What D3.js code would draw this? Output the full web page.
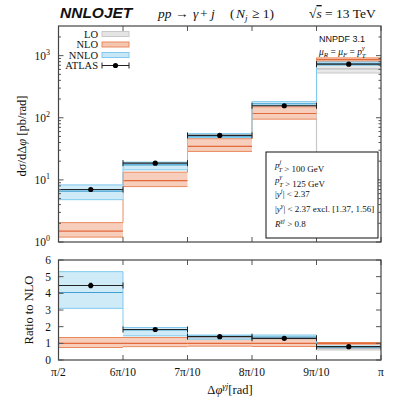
<!DOCTYPE html>
<html>
<head>
<meta charset="utf-8">
<script src="https://cdnjs.cloudflare.com/ajax/libs/d3/7.8.5/d3.min.js"></script>
<style>
  body { margin: 0; background: #fff; }
  text { font-family: "Liberation Serif", "DejaVu Serif", serif; fill: #111; }
</style>
</head>
<body>
<div id="chart-div"></div>
<script>
var fn = {};
var vars = {};

// bin edges in units of pi
var bin_edges = [0.5, 0.6, 0.7, 0.8, 0.9, 1.0];
var x_tick_labels = ["π/2", "6π/10", "7π/10", "8π/10", "9π/10", "π"];

// upper panel, dσ/dΔφ [pb/rad]  (lo, central, hi)
var lo_lo = [null, null, null, null, 525];
var lo_mid = [null, null, null, null, 610];
var lo_hi = [null, null, null, null, 700];

var nlo_lo = [1.2, 7.8, 28.7, 95, 810];
var nlo_mid = [1.5, 9.7, 34.7, 117, 860];
var nlo_hi = [2.05, 13.3, 46, 150, 920];

var nnlo_lo = [4.8, 14.5, 48, 158, 700];
var nnlo_mid = [6.6, 17.5, 50.5, 168, 740];
var nnlo_hi = [8.3, 19.3, 55.6, 182, 790];

var atlas_val = [7.0, 18.6, 52, 156, 730];
var atlas_err = [0.3, 0.6, 1.5, 4, 20];

// lower panel, ratio to NLO
var r_lo_lo = [null, null, null, null, 0.6];
var r_lo_mid = [null, null, null, null, 0.7];
var r_lo_hi = [null, null, null, null, 0.78];

var r_nlo_lo = [0.75, 0.8, 0.83, 0.81, 0.95];
var r_nlo_mid = [1, 1, 1, 1, 1];
var r_nlo_hi = [1.35, 1.35, 1.33, 1.28, 1.05];

var r_nnlo_lo = [3.1, 1.45, 1.25, 1.28, 0.74];
var r_nnlo_mid = [4.05, 1.8, 1.42, 1.38, 0.8];
var r_nnlo_hi = [5.3, 1.95, 1.5, 1.5, 0.84];

var r_atlas_val = [4.47, 1.83, 1.4, 1.3, 0.8];
var r_atlas_err = [0.16, 0.05, 0.04, 0.04, 0.03];

var y_ticks_log = [1, 10, 100, 1000];
var y_ticks_ratio = [0, 1, 2, 3, 4, 5, 6];

vars.colors = {
  lo: { fill: "#e4e4e4", edge: "#c8c8c8", mid: "#bdbdbd" },
  nlo: { fill: "#f5c6af", edge: "#e98a5e", mid: "#e2693a" },
  nnlo: { fill: "#c7e7f7", edge: "#7fcaee", mid: "#3f9fd0" }
};

vars.chart = {
  left: 58.5, right: 381,
  top: { y0: 26, y1: 242 },
  bottom: { y0: 260, y1: 360 }
};

fn.bins = function(lo, mid, hi) {
  return d3.range(bin_edges.length - 1).map(function(i) {
    return { x0: bin_edges[i], x1: bin_edges[i + 1], lo: lo[i], mid: mid[i], hi: hi[i] };
  }).filter(function(d) { return d.mid != null; });
};

fn.draw_band = function(g, data, x, y, col) {
  var grp = g.append("g");
  grp.selectAll("rect").data(data).enter().append("rect")
    .attr("x", function(d) { return x(d.x0); })
    .attr("width", function(d) { return x(d.x1) - x(d.x0); })
    .attr("y", function(d) { return y(d.hi); })
    .attr("height", function(d) { return y(d.lo) - y(d.hi); })
    .attr("fill", col.fill).attr("fill-opacity", 0.85);
  ["lo", "hi"].forEach(function(k) {
    grp.selectAll("line." + k).data(data).enter().append("line")
      .attr("class", k)
      .attr("x1", function(d) { return x(d.x0); })
      .attr("x2", function(d) { return x(d.x1); })
      .attr("y1", function(d) { return y(d[k]); })
      .attr("y2", function(d) { return y(d[k]); })
      .attr("stroke", col.edge).attr("stroke-width", 1);
  });
  grp.selectAll("line.mid").data(data).enter().append("line")
    .attr("class", "mid")
    .attr("x1", function(d) { return x(d.x0); })
    .attr("x2", function(d) { return x(d.x1); })
    .attr("y1", function(d) { return y(d.mid); })
    .attr("y2", function(d) { return y(d.mid); })
    .attr("stroke", col.mid).attr("stroke-width", 1.2);
  // vertical steps between neighbouring bins
  for (var i = 0; i < data.length - 1; i++) {
    var a = data[i], b = data[i + 1];
    grp.append("line")
      .attr("x1", x(a.x1)).attr("x2", x(a.x1))
      .attr("y1", y(Math.max(a.hi, b.hi))).attr("y2", y(Math.min(a.hi, b.hi)))
      .attr("stroke", col.edge).attr("stroke-width", 1);
  }
};

fn.draw_atlas = function(g, vals, errs, x, y) {
  var grp = g.append("g");
  vals.forEach(function(v, i) {
    var x0 = x(bin_edges[i]), x1 = x(bin_edges[i + 1]), yc = y(v);
    grp.append("line").attr("x1", x0).attr("x2", x1).attr("y1", yc).attr("y2", yc)
      .attr("stroke", "#222").attr("stroke-width", 1.1);
    [x0, x1].forEach(function(xx) {
      grp.append("line").attr("x1", xx).attr("x2", xx).attr("y1", yc - 3).attr("y2", yc + 3)
        .attr("stroke", "#222").attr("stroke-width", 1);
    });
    var xm = (x0 + x1) / 2;
    grp.append("line").attr("x1", xm).attr("x2", xm)
      .attr("y1", y(v + errs[i])).attr("y2", y(v - errs[i]))
      .attr("stroke", "#000").attr("stroke-width", 2.4);
    grp.append("circle").attr("cx", xm).attr("cy", yc).attr("r", 2.6).attr("fill", "#000");
  });
};

fn.draw_frame = function(g, x, y, y_ticks, minor) {
  var x0 = vars.chart.left, x1 = vars.chart.right;
  var ya = y.range()[0], yb = y.range()[1];
  var tk = g.append("g").attr("stroke", "#555").attr("stroke-width", 1);
  y_ticks.forEach(function(t) {
    tk.append("line").attr("x1", x0).attr("x2", x0 + 5).attr("y1", y(t)).attr("y2", y(t));
    tk.append("line").attr("x1", x1).attr("x2", x1 - 5).attr("y1", y(t)).attr("y2", y(t));
  });
  minor.forEach(function(t) {
    tk.append("line").attr("x1", x0).attr("x2", x0 + 2.5).attr("y1", y(t)).attr("y2", y(t));
    tk.append("line").attr("x1", x1).attr("x2", x1 - 2.5).attr("y1", y(t)).attr("y2", y(t));
  });
  bin_edges.forEach(function(e) {
    tk.append("line").attr("x1", x(e)).attr("x2", x(e)).attr("y1", ya).attr("y2", ya - 5);
    tk.append("line").attr("x1", x(e)).attr("x2", x(e)).attr("y1", yb).attr("y2", yb + 5);
  });
  g.append("rect").attr("x", x0).attr("y", yb).attr("width", x1 - x0).attr("height", ya - yb)
    .attr("fill", "none").attr("stroke", "#444").attr("stroke-width", 1.2);
};

// p with stacked super / subscript, e.g. p_T^j
fn.stacked = function(t, base, sup, sub, fs) {
  t.append("tspan").attr("font-style", "italic").text(base);
  t.append("tspan").attr("font-style", "italic").attr("font-size", fs).attr("dy", -4.5).text(sup);
  t.append("tspan").attr("font-style", "italic").attr("font-size", fs)
    .attr("dx", -fs * 0.45).attr("dy", 8).text(sub);
  t.append("tspan").attr("dy", -3.5).text("");
};

fn.main = function() {
  var svg = d3.select("#chart-div").append("svg")
    .attr("width", 397).attr("height", 405);

  var x = d3.scaleLinear().domain([0.5, 1.0]).range([vars.chart.left, vars.chart.right]);
  var y_top = d3.scaleLog().domain([1, 3000]).range([vars.chart.top.y1, vars.chart.top.y0]);
  var y_bot = d3.scaleLinear().domain([0, 6]).range([vars.chart.bottom.y1, vars.chart.bottom.y0]);

  // ---- upper panel
  var top = svg.append("g");
  top.append("defs").append("clipPath").attr("id", "clip-top").append("rect")
    .attr("x", vars.chart.left).attr("y", vars.chart.top.y0)
    .attr("width", vars.chart.right - vars.chart.left).attr("height", vars.chart.top.y1 - vars.chart.top.y0);
  var pt = top.append("g").attr("clip-path", "url(#clip-top)");

  // LO only lives in the last bin: edge drops to the floor
  pt.append("line").attr("x1", x(0.9)).attr("x2", x(0.9))
    .attr("y1", y_top(lo_hi[4])).attr("y2", vars.chart.top.y1)
    .attr("stroke", vars.colors.lo.edge).attr("stroke-width", 1.2);
  fn.draw_band(pt, fn.bins(lo_lo, lo_mid, lo_hi), x, y_top, vars.colors.lo);
  fn.draw_band(pt, fn.bins(nlo_lo, nlo_mid, nlo_hi), x, y_top, vars.colors.nlo);
  fn.draw_band(pt, fn.bins(nnlo_lo, nnlo_mid, nnlo_hi), x, y_top, vars.colors.nnlo);
  fn.draw_atlas(pt, atlas_val, atlas_err, x, y_top);

  var minor_log = [];
  [1, 10, 100, 1000].forEach(function(d) {
    for (var k = 2; k <= 9; k++) if (d * k < 3000) minor_log.push(d * k);
  });
  fn.draw_frame(top, x, y_top, y_ticks_log, minor_log);

  y_ticks_log.forEach(function(t) {
    var tx = top.append("text").attr("x", 50).attr("y", y_top(t) + 4)
      .attr("text-anchor", "end").attr("font-size", 11.5);
    tx.append("tspan").text("10");
    tx.append("tspan").attr("dy", -5).attr("font-size", 8).text(Math.round(Math.log10(t)));
  });

  // ---- lower panel
  var bot = svg.append("g");
  bot.append("defs").append("clipPath").attr("id", "clip-bot").append("rect")
    .attr("x", vars.chart.left).attr("y", vars.chart.bottom.y0)
    .attr("width", vars.chart.right - vars.chart.left).attr("height", vars.chart.bottom.y1 - vars.chart.bottom.y0);
  var pb = bot.append("g").attr("clip-path", "url(#clip-bot)");
  pb.append("line").attr("x1", x(0.9)).attr("x2", x(0.9))
    .attr("y1", y_bot(r_lo_hi[4])).attr("y2", y_bot(r_lo_lo[4]))
    .attr("stroke", vars.colors.lo.edge).attr("stroke-width", 1.2);
  fn.draw_band(pb, fn.bins(r_lo_lo, r_lo_mid, r_lo_hi), x, y_bot, vars.colors.lo);
  fn.draw_band(pb, fn.bins(r_nlo_lo, r_nlo_mid, r_nlo_hi), x, y_bot, vars.colors.nlo);
  fn.draw_band(pb, fn.bins(r_nnlo_lo, r_nnlo_mid, r_nnlo_hi), x, y_bot, vars.colors.nnlo);
  fn.draw_atlas(pb, r_atlas_val, r_atlas_err, x, y_bot);
  fn.draw_frame(bot, x, y_bot, y_ticks_ratio, []);

  y_ticks_ratio.forEach(function(t) {
    bot.append("text").attr("x", 51).attr("y", y_bot(t) + 4)
      .attr("text-anchor", "end").attr("font-size", 11.5).text(t);
  });
  bin_edges.forEach(function(e, i) {
    bot.append("text").attr("x", x(e)).attr("y", 376)
      .attr("text-anchor", "middle").attr("font-size", 11.5).text(x_tick_labels[i]);
  });

  // ---- axis titles
  var yl = svg.append("text").attr("transform", "translate(26,136) rotate(-90)")
    .attr("text-anchor", "middle").attr("font-size", 12.5);
  yl.append("tspan").text("dσ/dΔ");
  yl.append("tspan").attr("font-style", "italic").text("φ");
  yl.append("tspan").text(" [pb/rad]");

  svg.append("text").attr("transform", "translate(33,310) rotate(-90)")
    .attr("text-anchor", "middle").attr("font-size", 12.5).text("Ratio to NLO");

  var xl = svg.append("text").attr("x", 230).attr("y", 394)
    .attr("text-anchor", "middle").attr("font-size", 12.5);
  xl.append("tspan").text("Δ");
  xl.append("tspan").attr("font-style", "italic").text("φ");
  xl.append("tspan").attr("font-style", "italic").attr("font-size", 9).attr("dy", -5).text("γj");
  xl.append("tspan").attr("dy", 5).text("[rad]");

  // ---- header
  svg.append("text").attr("x", 60).attr("y", 18)
    .attr("font-size", 15.5).attr("font-weight", "bold").attr("font-style", "italic")
    .style("font-family", "'Liberation Sans', Arial, sans-serif").text("NNLOJET");

  var hy = 18;
  function head(xx, txt, italic, size, dy) {
    svg.append("text").attr("x", xx).attr("y", hy + (dy || 0)).attr("font-size", size || 13.5)
      .attr("font-style", italic ? "italic" : "normal").text(txt);
  }
  head(158, "pp", true);
  head(175, "→", false);
  head(193, "γ", true);
  head(200, "+", false);
  head(211, "j", true);
  head(230, "(", false);
  head(236, "N", true);
  head(245, "j", true, 9, 3);
  head(252, "≥ 1)", false);

  var sq = svg.append("text").attr("x", 309).attr("y", hy).attr("font-size", 13.5);
  sq.append("tspan").text("√");
  sq.append("tspan").attr("font-style", "italic").attr("text-decoration", "overline").text("s");
  sq.append("tspan").text(" = 13 TeV");

  // ---- legend
  var leg = svg.append("g");
  var rows = [
    { name: "LO", col: vars.colors.lo },
    { name: "NLO", col: vars.colors.nlo },
    { name: "NNLO", col: vars.colors.nnlo },
    { name: "ATLAS", col: null }
  ];
  rows.forEach(function(r, i) {
    var yy = 34 + i * 10.5;
    leg.append("text").attr("x", 98).attr("y", yy + 3.5).attr("text-anchor", "end")
      .attr("font-size", 10.5).text(r.name);
    if (r.col) {
      leg.append("rect").attr("x", 102).attr("y", yy - 2.5).attr("width", 27).attr("height", 5)
        .attr("fill", r.col.fill).attr("stroke", r.col.edge).attr("stroke-width", 1);
    } else {
      leg.append("line").attr("x1", 102).attr("x2", 129).attr("y1", yy).attr("y2", yy)
        .attr("stroke", "#222").attr("stroke-width", 1);
      [102, 129].forEach(function(xx) {
        leg.append("line").attr("x1", xx).attr("x2", xx).attr("y1", yy - 3).attr("y2", yy + 3)
          .attr("stroke", "#222");
      });
      leg.append("circle").attr("cx", 115.5).attr("cy", yy).attr("r", 2.6).attr("fill", "#000");
    }
  });

  // ---- PDF / scale note
  svg.append("text").attr("x", 319).attr("y", 42).attr("font-size", 9)
    .style("font-family", "'Liberation Sans', Arial, sans-serif").text("NNPDF 3.1");
  var mu = svg.append("text").attr("x", 319).attr("y", 54.5).attr("font-size", 9.5);
  mu.append("tspan").attr("font-style", "italic").text("μ");
  mu.append("tspan").attr("font-style", "italic").attr("font-size", 7).attr("dy", 2).text("R");
  mu.append("tspan").attr("dy", -2).text(" = ");
  mu.append("tspan").attr("font-style", "italic").text("μ");
  mu.append("tspan").attr("font-style", "italic").attr("font-size", 7).attr("dy", 2).text("F");
  mu.append("tspan").attr("dy", -2).text(" = ");
  fn.stacked(mu, "p", "γ", "T", 7);

  // ---- cuts box
  var box = svg.append("g");
  box.append("rect").attr("x", 266).attr("y", 152).attr("width", 112).attr("height", 86)
    .attr("fill", "#fff").attr("stroke", "#111").attr("stroke-width", 1);
  var fs = 9;
  function pt_line(yy, sup, rest) {
    var t = box.append("text").attr("x", 275).attr("y", yy).attr("font-size", fs);
    fn.stacked(t, "p", sup, "T", 6.5);
    t.append("tspan").text(rest);
  }
  pt_line(168, "j", " > 100 GeV");
  pt_line(183, "γ", " > 125 GeV");
  var t3 = box.append("text").attr("x", 275).attr("y", 197).attr("font-size", fs);
  t3.append("tspan").text("|");
  t3.append("tspan").attr("font-style", "italic").text("y");
  t3.append("tspan").attr("font-style", "italic").attr("font-size", 6.5).attr("dy", -4).text("j");
  t3.append("tspan").attr("dy", 4).text("| < 2.37");
  var t4 = box.append("text").attr("x", 275).attr("y", 212).attr("font-size", fs);
  t4.append("tspan").text("|");
  t4.append("tspan").attr("font-style", "italic").text("y");
  t4.append("tspan").attr("font-style", "italic").attr("font-size", 6.5).attr("dy", -4).text("γ");
  t4.append("tspan").attr("dy", 4).text("| < 2.37 excl. [1.37, 1.56]");
  var t5 = box.append("text").attr("x", 275).attr("y", 227).attr("font-size", fs);
  t5.append("tspan").attr("font-style", "italic").text("R");
  t5.append("tspan").attr("font-style", "italic").attr("font-size", 6.5).attr("dy", -4).text("γj");
  t5.append("tspan").attr("dy", 4).text(" > 0.8");
};

fn.main();
</script>
</body>
</html>
